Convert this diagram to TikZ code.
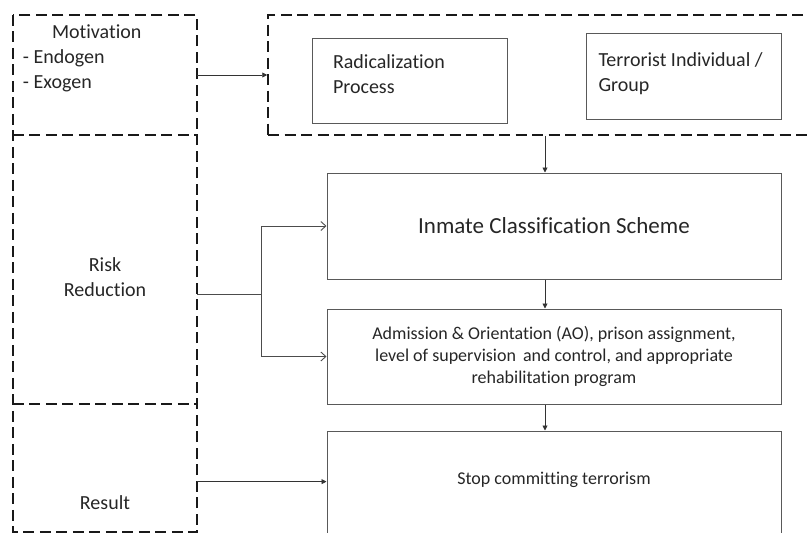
\documentclass[tikz,border=0pt]{standalone}
\usepackage{fontspec}
\setmainfont{Carlito}[Ligatures=NoCommon]
\usetikzlibrary{arrows.meta}
\newcommand{\zonefont}{\fontsize{20}{25}\selectfont}
\newcommand{\stepfont}{\fontsize{18}{22}\selectfont}
\tikzset{
	zone/.style={inner sep=0pt, text=black!85, font=\zonefont},
	zoneline/.style={draw=black!90, line width=1.5pt, dash pattern=on 11pt off 5.5pt},
	box/.style={draw=black!65, line width=1pt, inner sep=0pt, text=black!85, font=\zonefont},
	flow/.style={draw=black!80, line width=0.9pt, -{Triangle[length=5pt,width=5pt]}},
	branch/.style={draw=black!70, line width=0.9pt, -{Straight Barb[length=5pt,width=9pt]}},
}

\begin{document}
\begin{tikzpicture}[x=1pt, y=-1pt]
			%%%%% START %%%%%
			
			\clip (0, 0) rectangle (809, 533);
			
			\node[zone, minimum width=184pt, minimum height=120pt, text width=164pt, inner xsep=10pt, align=flush left, text height=23pt, text depth=97pt] (motiv) at (105, 75) {\hspace*{29pt}Motivation\\- Endogen\\- Exogen};
			\node[zone, minimum width=184pt, minimum height=269pt, text width=184pt, align=center, text height=136pt, text depth=133pt] (risk) at (105, 269.5) {Risk\\Reduction};
			\node[zone, minimum width=184pt, minimum height=128pt, text width=184pt, align=center, text height=105pt, text depth=23pt] (result) at (105, 468) {Result};
			\draw[zoneline] (motiv.north west) rectangle (result.south east);
			\draw[zoneline] (motiv.south west) -- (motiv.south east);
			\draw[zoneline] (risk.south west) -- (risk.south east);
			
			\node[zone, zoneline, minimum width=554pt, minimum height=120pt] (grp) at (545, 75) {};
			\node[box, minimum width=195pt, minimum height=85pt, text width=153pt, inner xsep=21pt, align=flush left, text height=30pt, text depth=55pt] (rad) at (409.5, 80.5) {Radicalization\\Process};
			\node[box, minimum width=195pt, minimum height=86pt, text width=170pt, inner xsep=12.5pt, align=flush left, text height=33pt, text depth=53pt] (terr) at (683.5, 76) {Terrorist Individual /\\Group};
			
			\node[box, minimum width=454pt, minimum height=106pt, font=\fontsize{23}{28}\selectfont] (ics) at (554, 226) {Inmate Classification Scheme};
			\node[box, minimum width=454pt, minimum height=95pt, align=center, font=\stepfont] (ao) at (554, 356.5) {Admission \& Orientation (AO), prison assignment,\\level of supervision\, and control, and appropriate\\rehabilitation program};
			\node[box, minimum width=454pt, text height=53pt, text depth=87pt, font=\stepfont] (stop) at (554, 501) {Stop committing terrorism};
			
			\draw[flow] (motiv.east) -- (grp.west);
			\draw[flow] (grp.south) -- (grp.south |- ics.north);
			\draw[flow] (ics.south -| grp.south) -- (ao.north -| grp.south);
			\draw[flow] (ao.south -| grp.south) -- (stop.north -| grp.south);
			
			\coordinate (fork) at (261, 294);
			\draw[draw=black!70, line width=0.9pt] (risk.east |- fork) -- (fork);
			\draw[branch] (fork) |- (ics.west);
			\draw[branch] (fork) |- (ao.west);
			
			\draw[flow] (result.east |- stop.mid west) -- (stop.mid west);
			
			%%%%% END %%%%%
		\end{tikzpicture}
\end{document}
